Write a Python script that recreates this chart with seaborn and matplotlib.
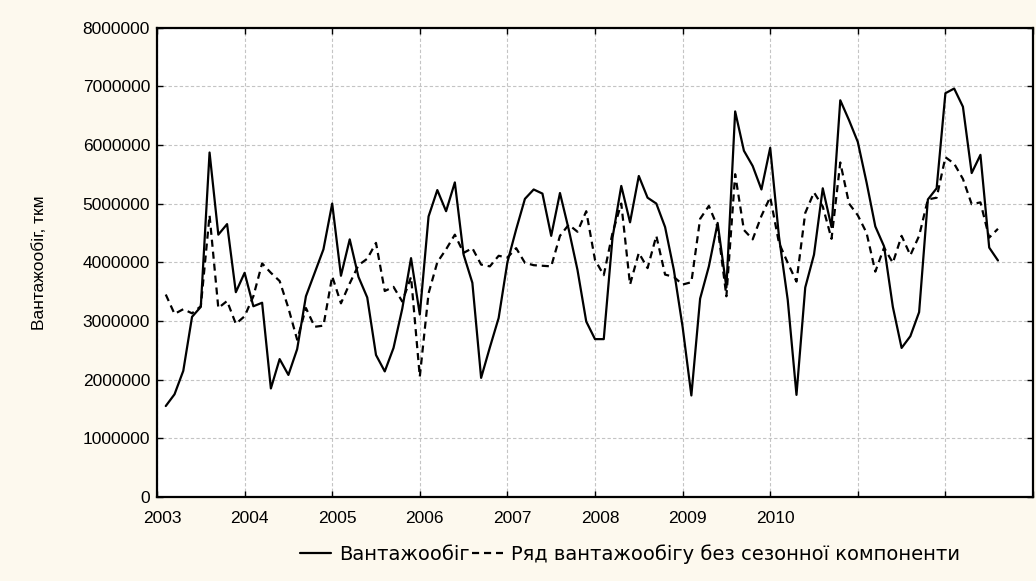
import matplotlib
matplotlib.use("Agg")
import matplotlib.pyplot as plt
import matplotlib.ticker as mticker
import matplotlib.transforms as mtransforms
from matplotlib.lines import Line2D
import numpy as np
import pandas as pd
import seaborn as sns

# Monthly freight turnover, 2003-2010 (values in millions of tkm)
turnover_m = [
    1.55, 1.75, 2.15, 3.07, 3.24, 5.87, 4.47, 4.65, 3.49, 3.82, 3.25, 3.31,
    1.85, 2.35, 2.08, 2.52, 3.42, 3.82, 4.22, 5.00, 3.77, 4.39, 3.75, 3.40,
    2.42, 2.14, 2.54, 3.21, 4.07, 3.11, 4.78, 5.23, 4.87, 5.36, 4.13, 3.65,
    2.03, 2.55, 3.05, 4.00, 4.56, 5.08, 5.24, 5.17, 4.45, 5.18, 4.56, 3.87,
    2.99, 2.69, 2.69, 4.42, 5.30, 4.68, 5.47, 5.10, 5.00, 4.60, 3.87, 2.90,
    1.73, 3.38, 3.93, 4.67, 3.57, 6.57, 5.90, 5.64, 5.24, 5.95, 4.44, 3.36,
    1.74, 3.57, 4.13, 5.26, 4.60, 6.76, 6.42, 6.05, 5.36, 4.61, 4.27, 3.24,
    2.54, 2.74, 3.15, 5.07, 5.26, 6.88, 6.96, 6.65, 5.52, 5.83, 4.25, 4.03,
]

# Series with the seasonal component removed
deseasonalized_m = [
    3.45, 3.12, 3.20, 3.13, 3.25, 4.80, 3.22, 3.34, 2.95, 3.08, 3.42, 3.98,
    3.82, 3.68, 3.22, 2.68, 3.22, 2.90, 2.92, 3.76, 3.30, 3.64, 3.95, 4.06,
    4.33, 3.51, 3.58, 3.33, 3.75, 2.05, 3.47, 4.00, 4.22, 4.47, 4.16, 4.24,
    3.96, 3.93, 4.11, 4.08, 4.24, 3.99, 3.95, 3.94, 3.93, 4.45, 4.64, 4.52,
    4.87, 4.04, 3.78, 4.50, 5.00, 3.62, 4.16, 3.90, 4.45, 3.79, 3.75, 3.62,
    3.66, 4.74, 4.96, 4.60, 3.42, 5.50, 4.55, 4.39, 4.79, 5.11, 4.33, 3.99,
    3.67, 4.84, 5.19, 4.95, 4.40, 5.70, 5.00, 4.80, 4.50, 3.84, 4.25, 3.99,
    4.45, 4.12, 4.45, 5.07, 5.10, 5.79, 5.68, 5.42, 4.99, 5.02, 4.42, 4.57,
]

year_labels = ["2003", "2004", "2005", "2006", "2007", "2008", "2009", "2010"]
y_ticks = [0, 1000000, 2000000, 3000000, 4000000, 5000000, 6000000, 7000000, 8000000]

series_names = ["Вантажообіг", "Ряд вантажообігу без сезонної компоненти"]
y_title = "Вантажообіг, ткм"

obs = np.arange(1, len(turnover_m) + 1)
df = pd.DataFrame({
    "obs": obs,
    "turnover": np.array(turnover_m) * 1e6,
    "deseason": np.array(deseasonalized_m) * 1e6,
})

sns.set_theme(style="white")
plt.rcParams["font.family"] = ["Liberation Sans", "DejaVu Sans"]
plt.rcParams["text.color"] = "black"

bg = "#fdf9ee"
fig = plt.figure(figsize=(10.36, 5.81), dpi=100, facecolor=bg)
ax = fig.add_axes([157 / 1036, 1 - 497 / 581, 876 / 1036, (497 - 27.5) / 581])
ax.set_facecolor("white")

solid_kw = dict(color="black", linewidth=1.6)
dash_kw = dict(color="black", linewidth=1.6, linestyle=(0, (3.2, 2.2)))

sns.lineplot(data=df, x="obs", y="turnover", ax=ax, **solid_kw)
sns.lineplot(data=df, x="obs", y="deseason", ax=ax, **dash_kw)

ax.set_xlim(0, 100)
ax.set_ylim(0, 8000000)
ax.set_xticks(np.arange(0, 101, 10))
ax.set_xticklabels(year_labels + ["", "", ""])
ax.set_yticks(y_ticks)
ax.yaxis.set_major_formatter(mticker.StrMethodFormatter("{x:.0f}"))

ax.grid(True, color="#c4c4c4", linestyle=(0, (3, 2)), linewidth=0.8)
for s in ax.spines.values():
    s.set_visible(True)
    s.set_color("black")
    s.set_linewidth(1.6)

ax.tick_params(axis="both", which="both", direction="in", length=4, width=1,
               colors="black", labelsize=12.5, top=True, right=True,
               bottom=True, left=True)
ax.tick_params(axis="x", pad=10)
ax.tick_params(axis="y", pad=5)

# year labels sit a few pixels to the right of their ticks
shift = mtransforms.ScaledTranslation(5 / 100, 0, fig.dpi_scale_trans)
for lbl in ax.get_xticklabels():
    lbl.set_transform(lbl.get_transform() + shift)

ax.set_xlabel("")
ax.set_ylabel(y_title, fontsize=12.5, color="black")
ax.yaxis.set_label_coords(-0.126, 0.5)

handles = [
    Line2D([], [], **solid_kw),
    Line2D([], [], **dash_kw),
]
fig.legend(handles, series_names, loc="center", bbox_to_anchor=(0.608, 0.046),
           ncol=2, frameon=False, handlelength=1.6,
           handletextpad=0.4, columnspacing=0.1, labelcolor="black",
           prop={"family": ["DejaVu Sans"], "size": 14})

fig.savefig("out.png", dpi=100, facecolor=bg)
